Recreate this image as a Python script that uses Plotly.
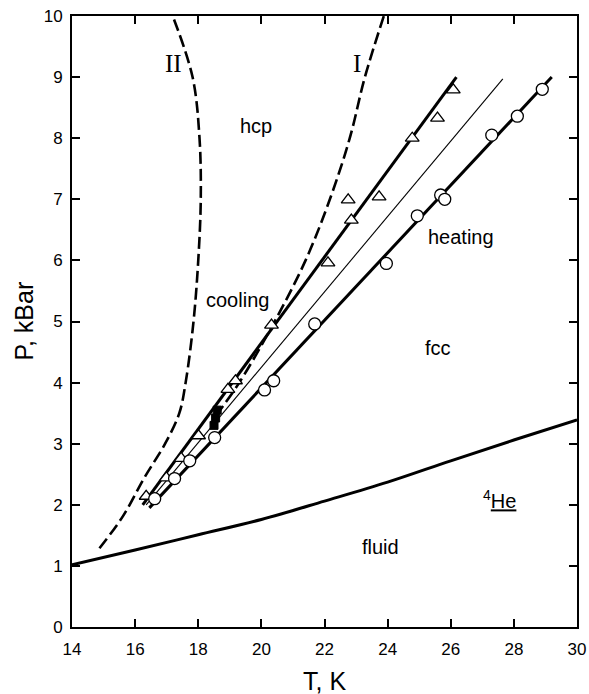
import plotly.graph_objects as go

# ---- data ----
# melting line (fluid / fcc boundary)
melt_T = [14, 16, 18, 20, 22, 24, 26, 28, 30]
melt_P = [1.02, 1.26, 1.51, 1.76, 2.06, 2.37, 2.72, 3.06, 3.39]

# dashed curve II
II_T = [14.87, 15.61, 16.3, 16.95, 17.4, 17.6, 17.85, 18.0, 18.08, 18.04, 17.82, 17.19]
II_P = [1.29, 1.81, 2.45, 3.0, 3.5, 4.0, 5.0, 6.0, 7.0, 8.0, 9.0, 10.0]

# dashed curve I
I_T = [18.55, 19.3, 20.42, 21.4, 22.17, 22.8, 23.28, 23.88]
I_P = [3.45, 4.0, 5.0, 6.0, 7.0, 8.0, 9.0, 10.0]

# straight fit lines
lineA_T = [16.24, 26.18]   # cooling (triangles)
lineA_P = [2.0, 9.0]
thin_T = [16.35, 27.65]
thin_P = [2.0, 8.97]
lineB_T = [16.45, 29.2]    # heating (circles)
lineB_P = [1.95, 9.0]

# cooling data (triangles)
tri_T = [16.35, 16.99, 17.46, 18.01, 18.94, 19.18, 20.32, 22.11, 22.85, 22.75, 23.73, 24.78, 25.58, 26.08]
tri_P = [2.14, 2.44, 2.76, 3.13, 3.89, 4.03, 4.94, 5.96, 6.66, 6.99, 7.04, 8.0, 8.33, 8.79]

# heating data (circles)
circ_T = [16.62, 17.25, 17.73, 18.52, 20.1, 20.39, 21.69, 23.96, 24.94, 25.68, 25.81, 27.3, 28.11, 28.9]
circ_P = [2.1, 2.43, 2.72, 3.1, 3.88, 4.03, 4.96, 5.95, 6.73, 7.07, 7.0, 8.05, 8.36, 8.8]

# filled squares
sq_T = [18.5, 18.55, 18.6]
sq_P = [3.3, 3.42, 3.55]

# text labels
lab_text = ["hcp", "cooling", "heating", "fcc", "fluid", "<sup>4</sup><u>He</u>"]
lab_T = [19.82, 19.25, 26.32, 25.59, 23.78, 27.56]
lab_P = [8.2, 5.35, 6.38, 4.57, 1.31, 2.08]
roman_text = ["II", "I"]
roman_T = [17.22, 23.02]
roman_P = [9.23, 9.23]

SANS = "Liberation Sans, Arial, sans-serif"

fig = go.Figure()

fig.add_trace(go.Scatter(x=melt_T, y=melt_P, mode="lines",
                         line=dict(color="black", width=3, shape="spline")))
fig.add_trace(go.Scatter(x=II_T, y=II_P, mode="lines",
                         line=dict(color="black", width=2.6, dash="12px,5px", shape="spline")))
fig.add_trace(go.Scatter(x=I_T, y=I_P, mode="lines",
                         line=dict(color="black", width=2.6, dash="12px,5px", shape="spline")))
fig.add_trace(go.Scatter(x=lineA_T, y=lineA_P, mode="lines",
                         line=dict(color="black", width=3)))
fig.add_trace(go.Scatter(x=thin_T, y=thin_P, mode="lines",
                         line=dict(color="black", width=1.1)))
fig.add_trace(go.Scatter(x=lineB_T, y=lineB_P, mode="lines",
                         line=dict(color="black", width=3)))

fig.add_trace(go.Scatter(x=tri_T, y=tri_P, mode="markers",
                         marker=dict(symbol="triangle-up", size=12, color="white",
                                     line=dict(color="black", width=1.3))))
fig.add_trace(go.Scatter(x=circ_T, y=circ_P, mode="markers",
                         marker=dict(symbol="circle", size=12, color="white",
                                     line=dict(color="black", width=1.3))))
fig.add_trace(go.Scatter(x=sq_T, y=sq_P, mode="markers",
                         marker=dict(symbol="square", size=8, color="black",
                                     line=dict(color="black", width=1))))

for t, x, y in zip(lab_text, lab_T, lab_P):
    fig.add_annotation(x=x, y=y, text=t, showarrow=False,
                       font=dict(family=SANS, size=20, color="black"))
for t, x, y in zip(roman_text, roman_T, roman_P):
    fig.add_annotation(x=x, y=y, text=t, showarrow=False,
                       font=dict(family="Liberation Serif, Times New Roman, serif", size=25, color="black"))

# axis titles as annotations (exact placement)
fig.add_annotation(text="T, K", xref="paper", yref="paper", x=0.5, y=0,
                   xanchor="center", yanchor="middle", yshift=-54, showarrow=False,
                   font=dict(family=SANS, size=25, color="black"))
fig.add_annotation(text="P, kBar", xref="paper", yref="paper", x=0, y=0.5,
                   xanchor="center", yanchor="middle", xshift=-49, textangle=-90,
                   showarrow=False, font=dict(family=SANS, size=25, color="black"))

axis_common = dict(showline=True, linecolor="black", linewidth=2, mirror="ticks",
                   ticks="inside", ticklen=8, tickwidth=1.5, tickcolor="black",
                   showgrid=False, zeroline=False, automargin=False,
                   ticklabeloverflow="allow",
                   tickfont=dict(family=SANS, size=17, color="black"))

fig.update_xaxes(range=[14, 30], dtick=2, tick0=14, ticklabelstandoff=6, **axis_common)
fig.update_yaxes(range=[0, 10], dtick=1, tick0=0, ticklabelstandoff=4, **axis_common)

fig.update_layout(width=589, height=694, showlegend=False,
                  margin=dict(l=72, r=12, t=16, b=67, autoexpand=False),
                  paper_bgcolor="white", plot_bgcolor="white")

# remove the default 8px page margin so the figure fills the window exactly
fig.write_html("out.html", config={"displayModeBar": False},
               post_script="document.body.style.margin='0';")
